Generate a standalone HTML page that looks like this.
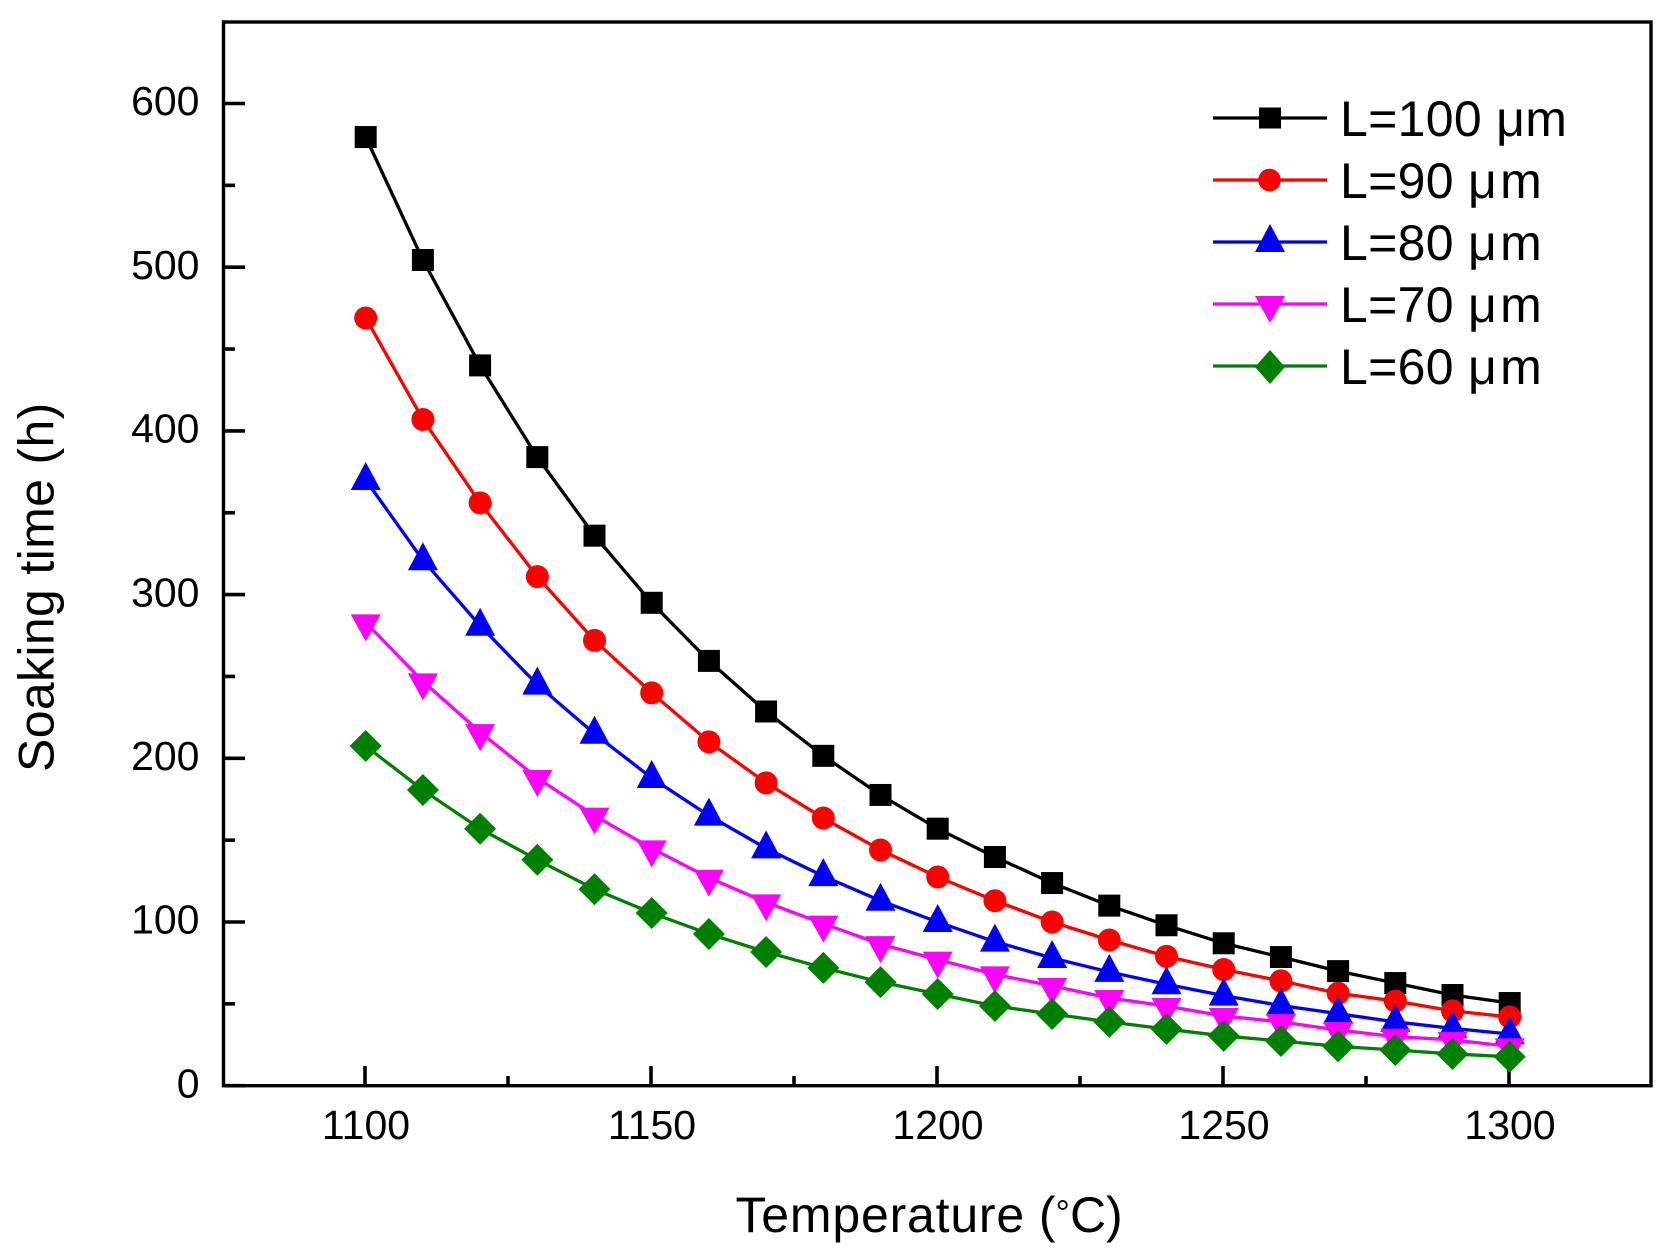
<!DOCTYPE html>
<html lang="en">
<head>
<meta charset="utf-8">
<title>Soaking time vs temperature</title>
<style>
html,body{margin:0;padding:0;background:#fff;}
svg{display:block;}
text{font-family:"Liberation Sans",Arial,sans-serif;fill:#000;}
</style>
</head>
<body>
<svg id="chart" xmlns="http://www.w3.org/2000/svg" width="1669" height="1255" viewBox="0 0 1669 1255">
  <rect x="0" y="0" width="1669" height="1255" fill="#fff"/>
  <g id="ticks"></g>
  <g id="series"></g>
  <rect x="223.5" y="22" width="1427.5" height="1063.7" fill="none" stroke="#000" stroke-width="3.4"/>
  <g id="tick-labels" font-size="41"></g>
  <text x="735.5" y="1232" font-size="50" xml:space="preserve"><tspan letter-spacing="0.8">Temperature</tspan> (<tspan font-size="36" dy="-7">°</tspan><tspan dy="7">C)</tspan></text>
  <text transform="translate(53.5,772) rotate(-90)" font-size="50" letter-spacing="0.35">Soaking time (h)</text>
  <g>
    <g>
      <line x1="1213" x2="1327" y1="118" y2="118" stroke="#000" stroke-width="3.3"/>
      <rect x="1259" y="107.5" width="22" height="21" fill="#000"/>
      <text x="1340" y="136" font-size="50" letter-spacing="0.3">L=100 μm</text>
    </g>
    <g>
      <line x1="1213" x2="1327" y1="180" y2="180" stroke="#f00" stroke-width="3.3"/>
      <circle cx="1269.5" cy="180" r="11.3" fill="#f00"/>
      <text x="1340" y="198" font-size="50" letter-spacing="0.3">L=90 μ<tspan dx="3">m</tspan></text>
    </g>
    <g>
      <line x1="1213" x2="1327" y1="242" y2="242" stroke="#00f" stroke-width="3.3"/>
      <polygon points="1270,224 1285,252 1255,252" fill="#00f"/>
      <text x="1340" y="260" font-size="50" letter-spacing="0.3">L=80 μ<tspan dx="3">m</tspan></text>
    </g>
    <g>
      <line x1="1213" x2="1327" y1="304" y2="304" stroke="#f0f" stroke-width="3.3"/>
      <polygon points="1255,296 1285,296 1270,323" fill="#f0f"/>
      <text x="1340" y="322" font-size="50" letter-spacing="0.3">L=70 μ<tspan dx="3">m</tspan></text>
    </g>
    <g>
      <line x1="1213" x2="1327" y1="366" y2="366" stroke="#008000" stroke-width="3.3"/>
      <polygon points="1270,350 1285,367 1270,384 1255,367" fill="#008000"/>
      <text x="1340" y="384" font-size="50" letter-spacing="0.3">L=60 μ<tspan dx="3">m</tspan></text>
    </g>
  </g>
</svg>
<script>
var temperatures = [1100,1110,1120,1130,1140,1150,1160,1170,1180,1190,1200,1210,1220,1230,1240,1250,1260,1270,1280,1290,1300];
var seriesL100 = [579.5,504.4,440,384,336,295,259.5,228.6,201.5,177.6,157,139.7,123.8,110,98,87,78.6,70,62.7,55.4,50.5];
var seriesL90 = [469,407,356,311,272,240,210,185,163.5,144,127.5,113,100,89,79,71,64,56.5,51.7,45.7,42];
var seriesL80 = [370,321,281,245,215,188,165,145,128,113,100,88,78,69.5,62,55,49,44,39,35,31.6];
var seriesL70 = [283,247,216,188,165,145,127,112,99,86.5,77,68,61,53.6,48.7,42.6,39,34,30,28,24];
var seriesL60 = [207.5,180.6,157,138,120,105.5,92.7,81.7,72,63.3,56,48.7,43.8,39,34.6,30.4,27.3,24,21.8,19.4,17.7];
var yTickLabels = [0,100,200,300,400,500,600];
var yMinorTicks = [50,150,250,350,450,550];
var xTickLabels = [1100,1150,1200,1250,1300];
var xMinorTicks = [1125,1175,1225,1275];

var NS = 'http://www.w3.org/2000/svg';
function xScale(v){ return 365 + (v - 1100) * 5.72; }
function yScale(v){ return 1085.7 - v * 1.637; }
var markerShift = 0.7;

function make(tag, attrs, parent){
  var el = document.createElementNS(NS, tag);
  for (var k in attrs) { el.setAttribute(k, attrs[k]); }
  parent.appendChild(el);
  return el;
}

var tickGroup = document.getElementById('ticks');
var labelGroup = document.getElementById('tick-labels');
var seriesGroup = document.getElementById('series');

yTickLabels.forEach(function(v){
  var t = make('line', {x1:225, x2:245, y1:yScale(v), y2:yScale(v), stroke:'#000', 'stroke-width':3.6}, tickGroup);
  
  
  var l = make('text', {x:199.5, y:yScale(v) + 11.7, 'text-anchor':'end'}, labelGroup);
  l.textContent = String(v);
  
  
});
yMinorTicks.forEach(function(v){
  var t = make('line', {x1:225, x2:235, y1:yScale(v), y2:yScale(v), stroke:'#000', 'stroke-width':3.6}, tickGroup);
  
  
});
xTickLabels.forEach(function(v){
  var t = make('line', {x1:xScale(v), x2:xScale(v), y1:1066, y2:1085, stroke:'#000', 'stroke-width':3.6}, tickGroup);
  
  
  var l = make('text', {x:xScale(v) + 1, y:1139, 'text-anchor':'middle'}, labelGroup);
  l.textContent = String(v);
  
  
});
xMinorTicks.forEach(function(v){
  var t = make('line', {x1:xScale(v), x2:xScale(v), y1:1076, y2:1085, stroke:'#000', 'stroke-width':3.6}, tickGroup);
  
  
});

function drawSquare(cx, cy, color, g){
  return make('rect', {x:cx - 11, y:cy - 11, width:22, height:22, fill:color}, g);
}
function drawCircle(cx, cy, color, g){
  return make('circle', {cx:cx, cy:cy, r:11.5, fill:color}, g);
}
function drawUp(cx, cy, color, g){
  return make('polygon', {points:cx + ',' + (cy - 18) + ' ' + (cx + 15) + ',' + (cy + 10) + ' ' + (cx - 15) + ',' + (cy + 10), fill:color}, g);
}
function drawDown(cx, cy, color, g){
  return make('polygon', {points:(cx - 15) + ',' + (cy - 8) + ' ' + (cx + 15) + ',' + (cy - 8) + ' ' + cx + ',' + (cy + 19), fill:color}, g);
}
function drawDiamond(cx, cy, color, g){
  return make('polygon', {points:cx + ',' + (cy - 16) + ' ' + (cx + 16) + ',' + cy + ' ' + cx + ',' + (cy + 16) + ' ' + (cx - 16) + ',' + cy, fill:color}, g);
}

function drawSeries(key, values, color, marker){
  var g = make('g', {}, seriesGroup);
  
  
  var pts = values.map(function(v, i){ return (xScale(temperatures[i]) + markerShift) + ',' + yScale(v); }).join(' ');
  var line = make('polyline', {points:pts, fill:'none', stroke:color, 'stroke-width':3.3, 'stroke-linejoin':'round'}, g);
  
  
  values.forEach(function(v, i){
    var m = marker(xScale(temperatures[i]) + markerShift, yScale(v), color, g);
    
    
  });
}

drawSeries('l-100', seriesL100, '#000000', drawSquare);
drawSeries('l-90', seriesL90, '#ff0000', drawCircle);
drawSeries('l-80', seriesL80, '#0000ff', drawUp);
drawSeries('l-70', seriesL70, '#ff00ff', drawDown);
drawSeries('l-60', seriesL60, '#008000', drawDiamond);
</script>
</body>
</html>
